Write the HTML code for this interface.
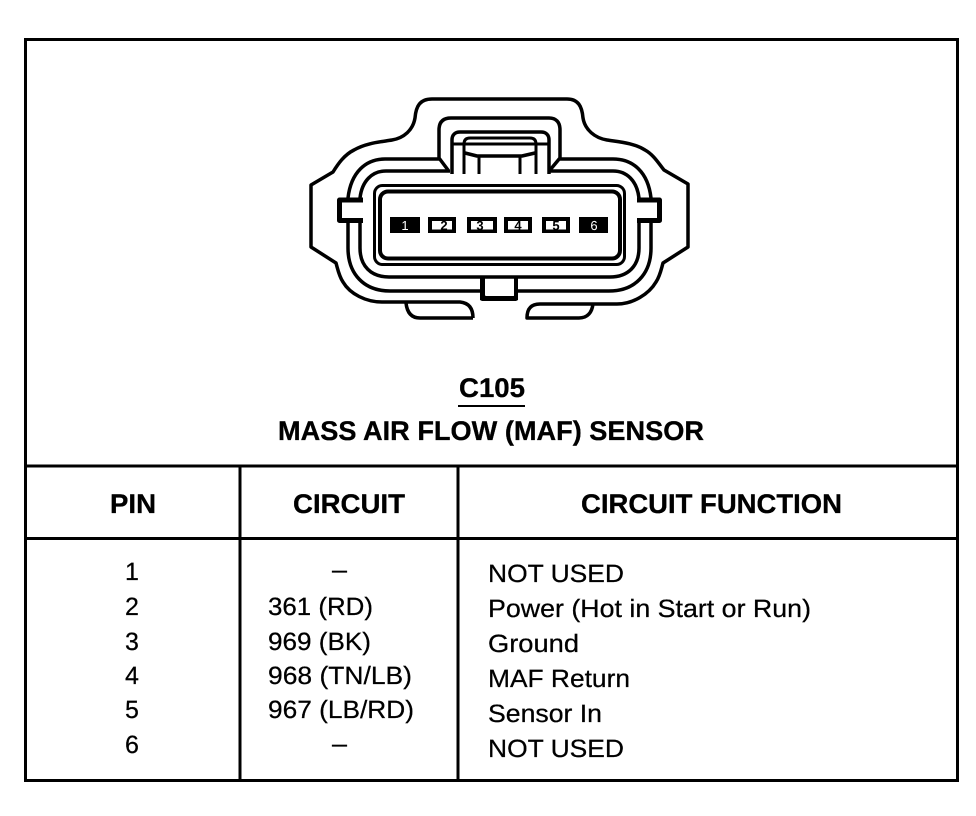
<!DOCTYPE html>
<html>
<head>
<meta charset="utf-8">
<style>
html,body{margin:0;padding:0;background:#fff;width:976px;height:816px;overflow:hidden}
svg{display:block}
text{font-family:"Liberation Sans",Arial,sans-serif;fill:#000;text-rendering:geometricPrecision}
.b{font-weight:bold}
.r{font-size:25px;stroke:#000;stroke-width:.25px}
.h{font-size:27px;font-weight:bold;stroke:#000;stroke-width:.3px}
</style>
</head>
<body>
<svg width="976" height="816" viewBox="0 0 976 816" xmlns="http://www.w3.org/2000/svg">
<rect x="0" y="0" width="976" height="816" fill="#fff"/>
<!-- frame -->
<rect x="25.5" y="39.5" width="932" height="741" fill="none" stroke="#000" stroke-width="3"/>
<rect x="25" y="464.5" width="933" height="3"/>
<rect x="25" y="537" width="933" height="3"/>
<rect x="238.5" y="466" width="3" height="314"/>
<rect x="456.5" y="466" width="3" height="314"/>

<!-- connector -->
<g fill="none" stroke="#000" stroke-linejoin="round" stroke-linecap="butt">
  <!-- outer body, running into the lower lugs -->
  <path stroke-width="3.5" d="M473 318 H420 C411 318 407 312 406 303 M473 318 C473 310 470 303 460 302 H382 C366 302 350 294 343 282 C339 276 338 270 336 263 L311 247 V185 L333 172 C338 164 344 155 354 150 C366 143 380 142 392 140 C404 138 413 130 415 118 C416 106 420 99 432 99 H567 C578 99 582 106 583 118 C585 130 595 138 607 140 C620 142 634 143 645 150 C654 155 659 164 664 170 L688 184 V247 L663 263 C661 270 660 276 656 282 C649 294 633 304 617 304 H540 C530 304 527 310 527 318 H579 C588 318 592 312 593 304"/>
  <!-- upper shroud -->
  <path stroke-width="3.5" d="M448 170 L439 158 V130 C439 122 443 118 451 118 H549 C556 118 560 122 560 130 V158 L550 170"/>
  <path stroke-width="3.5" d="M452 174 V140 C452 135 455 132 460 132 H541 C546 132 549 135 549 140 V174"/>
  <path stroke-width="3" d="M452 144 H549"/>
  <path stroke-width="3" d="M464 174 V144 C464 140 466 138 470 138 H530 C534 138 536 140 536 144 V174"/>
  <path stroke-width="3.5" d="M465 153 L477 156 H522 L535 153"/>
  <path stroke-width="3" d="M479 157 V174 M520 157 V174"/>
  <!-- second outline, upper -->
  <path stroke-width="3.5" d="M439 159 H385 C366 159 351 172 348 198"/>
  <path stroke-width="3.5" d="M613 159 H560 M613 159 C633 159 648 172 651 198"/>
  <path stroke-width="3.5" d="M450 171 H386 C372 171 362 181 360 198"/>
  <path stroke-width="3.5" d="M549 171 H613 C627 171 637 181 639 198"/>
  <!-- second outline, lower -->
  <path stroke-width="3.5" d="M348 222 V248 C348 274 364 291 390 291 H480"/>
  <path stroke-width="3.5" d="M651 222 V248 C651 274 635 291 609 291 H518"/>
  <path stroke-width="3.5" d="M360 222 V248 C360 266 371 277 389 277 H610 C628 277 639 266 639 248 V222"/>
  <!-- side tabs -->
  <path stroke-width="5" d="M363 200 H339.5 V220.5 H363"/>
  <path stroke-width="5" d="M637 200 H659.5 V220.5 H637"/>
  <!-- inner housing -->
  <rect x="374.5" y="185.5" width="250" height="79" rx="8" stroke-width="3"/>
  <rect x="380" y="191.5" width="240" height="67" rx="8" stroke-width="4"/>
</g>
<!-- bottom key -->
<path d="M480 278 H485 V295 C485 296 486 296 487 296 H513 C514 296 514 296 514 295 V278 H518 V300 L516 301 H482 L480 300 Z"/>

<!-- pins -->
<rect x="390" y="217" width="30" height="16"/>
<rect x="428" y="217" width="28" height="16"/>
<rect x="432" y="221" width="20" height="8.5" fill="#fff"/>
<rect x="467" y="217" width="30" height="16"/>
<rect x="471" y="221" width="22" height="8.5" fill="#fff"/>
<rect x="504" y="217" width="28" height="16"/>
<rect x="508" y="221" width="20" height="8.5" fill="#fff"/>
<rect x="542" y="217" width="28" height="16"/>
<rect x="546" y="221" width="20" height="8.5" fill="#fff"/>
<rect x="579" y="217" width="29" height="16"/>
<g font-size="13" text-anchor="middle">
  <text x="405" y="230" style="fill:#fff">1</text>
  <text x="444" y="230" class="b">2</text>
  <text x="480" y="230" class="b">3</text>
  <text x="518" y="230" class="b">4</text>
  <text x="556" y="230" class="b">5</text>
  <text x="594" y="230" style="fill:#fff">6</text>
</g>

<!-- titles -->
<text x="459" y="397" class="h" textLength="66" lengthAdjust="spacingAndGlyphs">C105</text>
<rect x="458" y="405" width="67" height="2"/>
<text x="278" y="440" class="h" textLength="426" lengthAdjust="spacingAndGlyphs">MASS AIR FLOW (MAF) SENSOR</text>

<!-- headers -->
<text x="110" y="513" class="h" textLength="46" lengthAdjust="spacingAndGlyphs">PIN</text>
<text x="293" y="513" class="h" textLength="112" lengthAdjust="spacingAndGlyphs">CIRCUIT</text>
<text x="581" y="513" class="h" textLength="261" lengthAdjust="spacingAndGlyphs">CIRCUIT FUNCTION</text>

<!-- pin column -->
<text x="125" y="580" class="r">1</text>
<text x="125" y="615" class="r">2</text>
<text x="125" y="650" class="r">3</text>
<text x="125" y="684" class="r">4</text>
<text x="125" y="718" class="r">5</text>
<text x="125" y="753" class="r">6</text>

<!-- circuit column -->
<text x="332" y="578" class="r" textLength="15" lengthAdjust="spacingAndGlyphs">–</text>
<text x="268" y="615" class="r" textLength="105" lengthAdjust="spacingAndGlyphs">361 (RD)</text>
<text x="268" y="650" class="r" textLength="103" lengthAdjust="spacingAndGlyphs">969 (BK)</text>
<text x="268" y="684" class="r" textLength="144" lengthAdjust="spacingAndGlyphs">968 (TN/LB)</text>
<text x="268" y="718" class="r" textLength="146" lengthAdjust="spacingAndGlyphs">967 (LB/RD)</text>
<text x="332" y="752" class="r" textLength="15" lengthAdjust="spacingAndGlyphs">–</text>

<!-- function column -->
<text x="488" y="582" class="r" textLength="136" lengthAdjust="spacingAndGlyphs">NOT USED</text>
<text x="488" y="617" class="r" textLength="323" lengthAdjust="spacingAndGlyphs">Power (Hot in Start or Run)</text>
<text x="488" y="652" class="r" textLength="91" lengthAdjust="spacingAndGlyphs">Ground</text>
<text x="488" y="687" class="r" textLength="142" lengthAdjust="spacingAndGlyphs">MAF Return</text>
<text x="488" y="722" class="r" textLength="114" lengthAdjust="spacingAndGlyphs">Sensor In</text>
<text x="488" y="757" class="r" textLength="136" lengthAdjust="spacingAndGlyphs">NOT USED</text>
</svg>
</body>
</html>
